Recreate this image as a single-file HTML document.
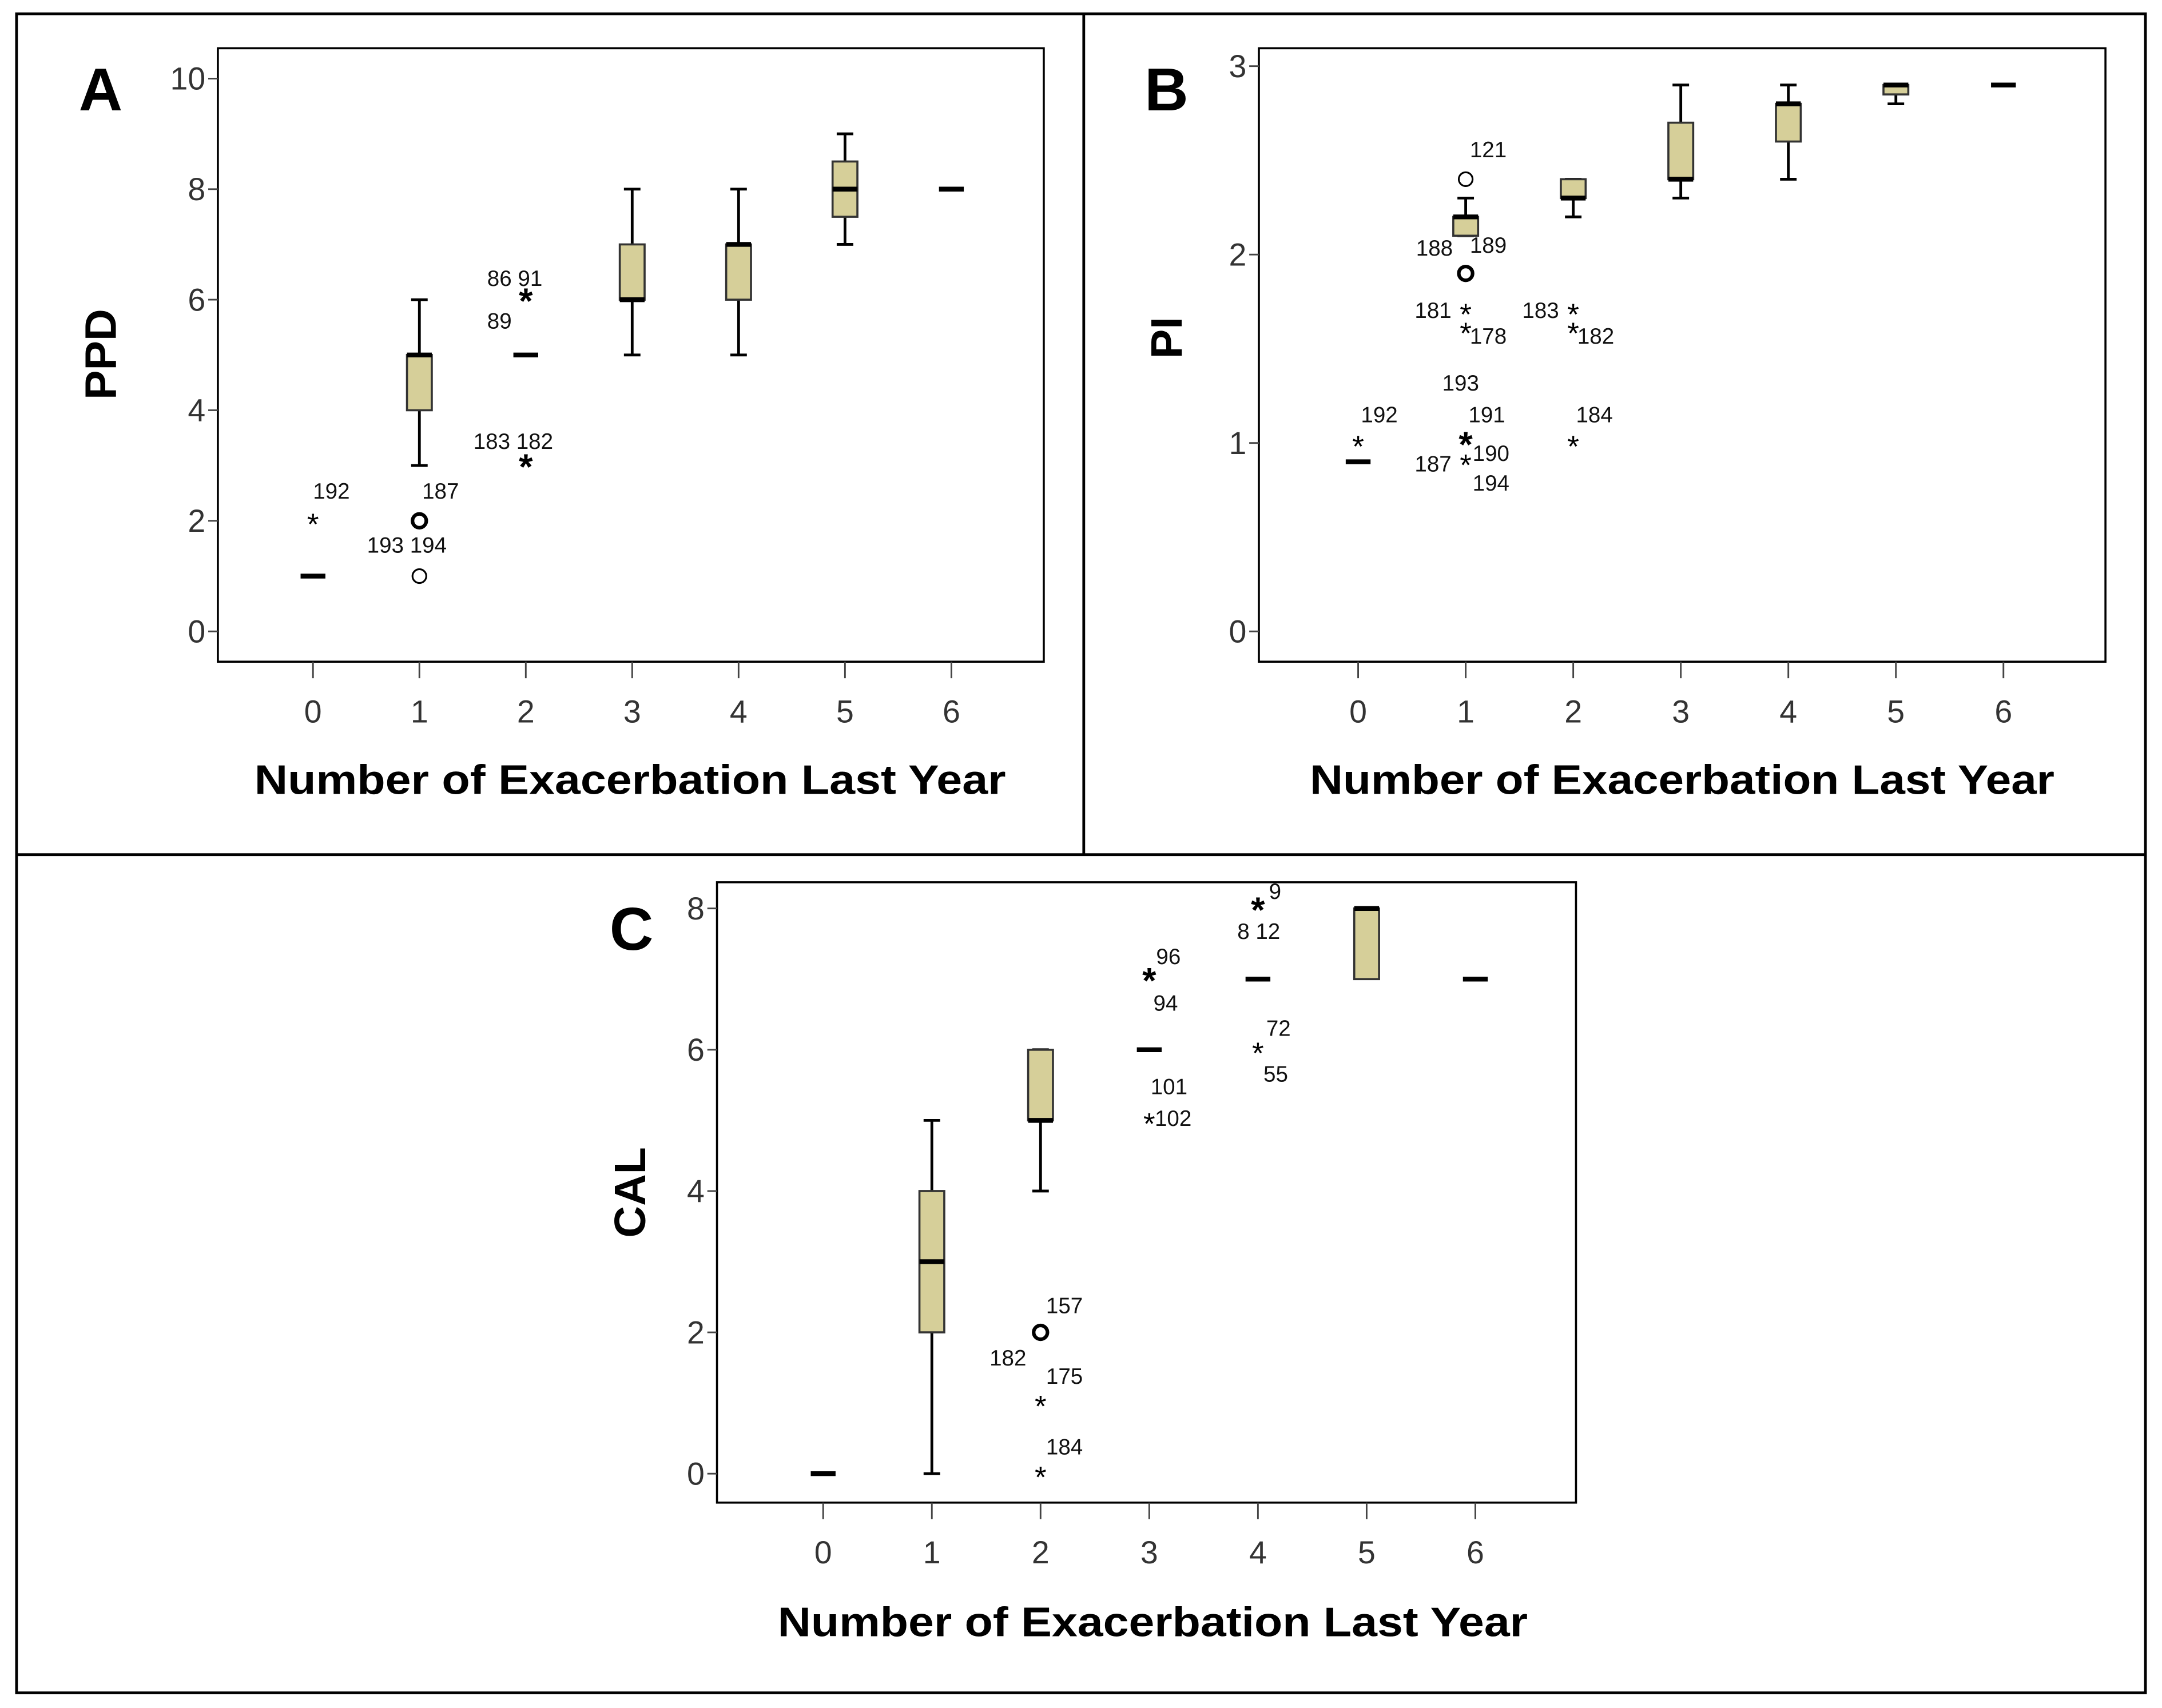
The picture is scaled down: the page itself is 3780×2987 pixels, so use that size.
<!DOCTYPE html>
<html><head><meta charset="utf-8"><style>
html,body{margin:0;padding:0;background:#fff}
svg{display:block}
text{font-family:"Liberation Sans",Arial,sans-serif}
</style></head><body>
<svg id="fig" width="3780" height="2987" viewBox="0 0 1568 1239" preserveAspectRatio="none" xmlns="http://www.w3.org/2000/svg">
<rect x="0" y="0" width="1568" height="1239" fill="#fff"/>
<rect x="12" y="10" width="1544" height="1218" fill="none" stroke="#000" stroke-width="2"/>
<line x1="12" y1="620" x2="1556" y2="620" stroke="#000" stroke-width="2"/>
<line x1="786" y1="10" x2="786" y2="620" stroke="#000" stroke-width="2"/>
</svg>
<script>
const categories=[0,1,2,3,4,5,6];
// Panel A (PPD)
const aQ1=[null,4,null,6,6,7.5,null];
const aMed=[1,5,5,6,7,8,8];
const aQ3=[null,5,null,7,7,8.5,null];
const aLo=[null,3,null,5,5,7,null];
const aHi=[null,6,null,8,8,9,null];
const aTicks=[0,2,4,6,8,10];
const aOutCat=[0,1,1,2,2];
const aOutVal=[2,2,1,6,3];
const aOutType=["star","circleB","circle","starB","starB"];
const aLabels=[["192",0,2,0,-16],["187",1,2,2,-16],["193 194",1,1,-38,-17],["86 91",2,6,-28,-10],["89",2,6,-28,21],["183 182",2,3,-38,-12]];
// Panel B (PI)
const bQ1=[null,2.1,2.3,2.4,2.6,2.85,null];
const bMed=[0.9,2.2,2.3,2.4,2.8,2.9,2.9];
const bQ3=[null,2.2,2.4,2.7,2.8,2.9,null];
const bLo=[null,2.1,2.2,2.3,2.4,2.8,null];
const bHi=[null,2.3,2.4,2.9,2.9,2.9,null];
const bTicks=[0,1,2,3];
const bOutCat=[1,1,1,1,1,1,0,2,2,2];
const bOutVal=[2.4,1.9,1.7,1.6,1.0,0.9,1.0,1.7,1.6,1.0];
const bOutType=["circle","circleB","star","star","starB","star","star","star","star","star"];
const bLabels=[["121",1,2.4,3,-16],["188",1,1.9,-36,-13],["189",1,1.9,3,-15],["181",1,1.7,-37,5],["178",1,1.6,3,10],["193",1,1.0,-17,-38],["191",1,1.0,2,-15],["190",1,1.0,5,13],["187",1,0.9,-37,7],["194",1,0.9,5,21],["192",0,1.0,2,-15],["183",2,1.7,-37,5],["182",2,1.6,3,10],["184",2,1.0,2,-15]];
// Panel C (CAL)
const cQ1=[null,2,5,null,null,7,null];
const cMed=[0,3,5,6,7,8,7];
const cQ3=[null,4,6,null,null,8,null];
const cLo=[null,0,4,null,null,null,null];
const cHi=[null,5,6,null,null,null,null];
const cTicks=[0,2,4,6,8];
const cOutCat=[3,3,4,4,2,2,2];
const cOutVal=[7,5,8,6,2,1,0];
const cOutType=["starB","star","starB","star","circleB","star","star"];
const cLabels=[["96",3,7,5,-11],["94",3,7,3,23],["101",3,5,1,-19],["102",3,5,4,4],["9",4,8,8,-7],["8 12",4,8,-15,22],["72",4,6,6,-10],["55",4,6,4,23],["157",2,2,4,-14],["182",2,2,-37,24],["175",2,1,4,-14],["184",2,0,4,-14]];

const svg=document.getElementById('fig');
const NS='http://www.w3.org/2000/svg';
function mk(tag,attrs,parent){const e=document.createElementNS(NS,tag);for(const k in attrs)e.setAttribute(k,attrs[k]);(parent||svg).appendChild(e);return e;}

function panel(cfg){
  const g=mk('g',{});
  
  
  const f=cfg.frame;
  const fr=mk('rect',{x:f[0],y:f[1],width:f[2]-f[0],height:f[3]-f[1],fill:'none',stroke:'#000','stroke-width':1.5},g);
  
  
  const xs=c=>cfg.x0+(cfg.x6-cfg.x0)*c/6;
  const ys=v=>cfg.yb+(cfg.yt-cfg.yb)*(v-cfg.vb)/(cfg.vt-cfg.vb);
  cfg.ticks.forEach(t=>{
    const l=mk('line',{x1:f[0]-7,x2:f[0],y1:ys(t),y2:ys(t),stroke:'#444','stroke-width':1.2},g);
    
    
    const tx=mk('text',{x:f[0]-9,y:ys(t)+8,'text-anchor':'end','font-size':23,fill:'#333'},g);tx.textContent=t;
    
    
  });
  categories.forEach(c=>{
    const l=mk('line',{x1:xs(c),x2:xs(c),y1:f[3],y2:f[3]+12,stroke:'#444','stroke-width':1.2},g);
    
    
    const tx=mk('text',{x:xs(c),y:f[3]+44,'text-anchor':'middle','font-size':23,fill:'#333'},g);tx.textContent=c;
    
    
  });
  const bw=9;
  categories.forEach((c,i)=>{
    const x=xs(c);
    if(cfg.lo[i]!=null){
      const w1=mk('line',{x1:x,x2:x,y1:ys(cfg.lo[i]),y2:ys(cfg.q1[i]!=null?cfg.q1[i]:cfg.med[i]),stroke:'#000','stroke-width':2},g);
      
      
      const c1=mk('line',{x1:x-6,x2:x+6,y1:ys(cfg.lo[i]),y2:ys(cfg.lo[i]),stroke:'#000','stroke-width':2},g);
      
      
    }
    if(cfg.hi[i]!=null){
      const w2=mk('line',{x1:x,x2:x,y1:ys(cfg.hi[i]),y2:ys(cfg.q3[i]!=null?cfg.q3[i]:cfg.med[i]),stroke:'#000','stroke-width':2},g);
      
      
      const c2=mk('line',{x1:x-6,x2:x+6,y1:ys(cfg.hi[i]),y2:ys(cfg.hi[i]),stroke:'#000','stroke-width':2},g);
      
      
    }
    if(cfg.q1[i]!=null){
      const b=mk('rect',{x:x-bw,y:ys(cfg.q3[i]),width:bw*2,height:ys(cfg.q1[i])-ys(cfg.q3[i]),fill:'#d6cf99',stroke:'#333','stroke-width':1.5},g);
      
      
    }
    const m=mk('line',{x1:x-bw,x2:x+bw,y1:ys(cfg.med[i]),y2:ys(cfg.med[i]),stroke:'#000','stroke-width':3.5},g);
    
    
  });
  cfg.oc.forEach((c,i)=>{
    const x=xs(c),y=ys(cfg.ov[i]),t=cfg.ot[i];
    let e;
    if(t.startsWith('circle')){
      e=mk('circle',{cx:x,cy:y,r:5,fill:'none',stroke:'#000','stroke-width':t==='circleB'?2.6:1.3},g);
    } else {
      e=mk('text',{x:x,y:y+10,'text-anchor':'middle','font-size':t==='starB'?26:22,'font-weight':t==='starB'?'bold':'normal'},g);
      e.textContent='*';
    }
    
    
  });
  cfg.labels.forEach(L=>{
    const tx=mk('text',{x:xs(L[1])+L[3],y:ys(L[2])+L[4],'font-size':16,fill:'#111'},g);tx.textContent=L[0];
    
    
  });
  const yt=mk('text',{transform:`translate(${cfg.ytx},${cfg.yty}) rotate(-90)`,'text-anchor':'middle','font-size':32,'font-weight':'bold'},g);yt.textContent=cfg.ytitle;
  
  
  const xt=mk('text',{x:cfg.xtx,y:cfg.xty,'text-anchor':'middle','font-size':30,'font-weight':'bold',textLength:cfg.xtl,lengthAdjust:'spacingAndGlyphs'},g);xt.textContent='Number of Exacerbation Last Year';
  
  
  const pl=mk('text',{x:cfg.lx,y:cfg.ly,'text-anchor':'middle','font-size':44,'font-weight':'bold'},g);pl.textContent=cfg.letter;
  
  
}
panel({name:'panel-a-ppd',frame:[158,35,757,480],x0:227,x6:690,yb:458,yt:57,vb:0,vt:10,ticks:aTicks,
  q1:aQ1,med:aMed,q3:aQ3,lo:aLo,hi:aHi,oc:aOutCat,ov:aOutVal,ot:aOutType,labels:aLabels,
  ytitle:'PPD',ytx:84,yty:257,xtx:457,xty:576,xtl:545,letter:'A',lx:73,ly:80});
panel({name:'panel-b-pi',frame:[913,35,1527,480],x0:985,x6:1453,yb:458,yt:48,vb:0,vt:3,ticks:bTicks,
  q1:bQ1,med:bMed,q3:bQ3,lo:bLo,hi:bHi,oc:bOutCat,ov:bOutVal,ot:bOutType,labels:bLabels,
  ytitle:'PI',ytx:857,yty:245,xtx:1220,xty:576,xtl:540,letter:'B',lx:846,ly:80});
panel({name:'panel-c-cal',frame:[520,640,1143,1090],x0:597,x6:1070,yb:1069,yt:659,vb:0,vt:8,ticks:cTicks,
  q1:cQ1,med:cMed,q3:cQ3,lo:cLo,hi:cHi,oc:cOutCat,ov:cOutVal,ot:cOutType,labels:cLabels,
  ytitle:'CAL',ytx:468,yty:865,xtx:836,xty:1187,xtl:544,letter:'C',lx:458,ly:689});
</script>
</body></html>
